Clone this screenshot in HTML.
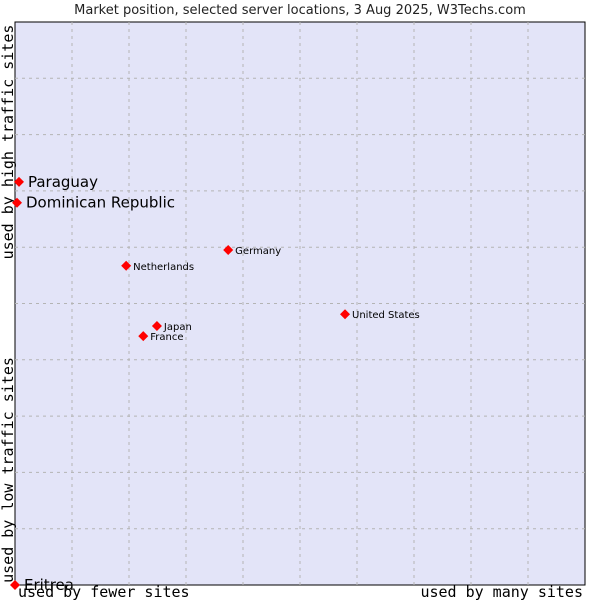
<!DOCTYPE html>
<html><head><meta charset="utf-8"><style>
body{margin:0;background:#fff;width:600px;height:600px;overflow:hidden}
svg{display:block}
</style></head><body>
<svg id="chart" width="600" height="600" xmlns="http://www.w3.org/2000/svg">
<text x="300" y="14" text-anchor="middle" font-family="DejaVu Sans, sans-serif" font-size="13" fill="#222">Market position, selected server locations, 3 Aug 2025, W3Techs.com</text>
<rect x="15" y="22" width="570" height="563" fill="#e3e4f8" stroke="#000" stroke-width="1"/>
<g id="grid"></g>
<text transform="translate(13,142) rotate(-90)" text-anchor="middle" font-family="DejaVu Sans Mono, monospace" font-size="15" fill="#000">used by high traffic sites</text>
<text transform="translate(13,470) rotate(-90)" text-anchor="middle" font-family="DejaVu Sans Mono, monospace" font-size="15" fill="#000">used by low traffic sites</text>
<text x="18" y="597" font-family="DejaVu Sans Mono, monospace" font-size="15" fill="#000">used by fewer sites</text>
<text x="583" y="597" text-anchor="end" font-family="DejaVu Sans Mono, monospace" font-size="15" fill="#000">used by many sites</text>
<g id="points"></g>
</svg>
<script>
const names = ["Paraguay","Dominican Republic","Germany","Netherlands","United States","Japan","France","Eritrea"];
const xValues = [0.7,0.35,37.4,19.5,57.9,24.9,22.5,0];
const yValues = [71.6,67.9,59.5,56.7,48.1,46.0,44.2,0];
const bigLabel = [true,true,false,false,false,false,false,true];
const NS="http://www.w3.org/2000/svg";
const L=15,T=22,W=570,H=563;
function sx(v){return L+v/100*W;}
function sy(v){return T+H-v/100*H;}
const grid=document.getElementById('grid');
for(let i=1;i<10;i++){
  const v=document.createElementNS(NS,'line');
  v.setAttribute('x1',sx(i*10));v.setAttribute('x2',sx(i*10));v.setAttribute('y1',T);v.setAttribute('y2',T+H);
  v.setAttribute('stroke','#b4b4b4');v.setAttribute('stroke-dasharray','3,4');
  
  
  grid.appendChild(v);
  const h=document.createElementNS(NS,'line');
  h.setAttribute('y1',sy(i*10));h.setAttribute('y2',sy(i*10));h.setAttribute('x1',L);h.setAttribute('x2',L+W);
  h.setAttribute('stroke','#b4b4b4');h.setAttribute('stroke-dasharray','3,4');
  
  
  grid.appendChild(h);
}
const pts=document.getElementById('points');
names.forEach((n,i)=>{
  const x=sx(xValues[i]),y=sy(yValues[i]);
  const d=document.createElementNS(NS,'polygon');
  const r=5;
  d.setAttribute('points',`${x},${y-r} ${x+r},${y} ${x},${y+r} ${x-r},${y}`);
  d.setAttribute('fill','#f00');
  
  
  pts.appendChild(d);
  const t=document.createElementNS(NS,'text');
  t.setAttribute('x',x+(bigLabel[i]?9:7));
  t.setAttribute('y',y+(bigLabel[i]?5:4));
  t.setAttribute('font-family','DejaVu Sans, sans-serif');
  t.setAttribute('font-size',bigLabel[i]?15:10);
  t.setAttribute('fill','#000');
  t.textContent=n;
  
  
  pts.appendChild(t);
});
</script>
</body></html>
